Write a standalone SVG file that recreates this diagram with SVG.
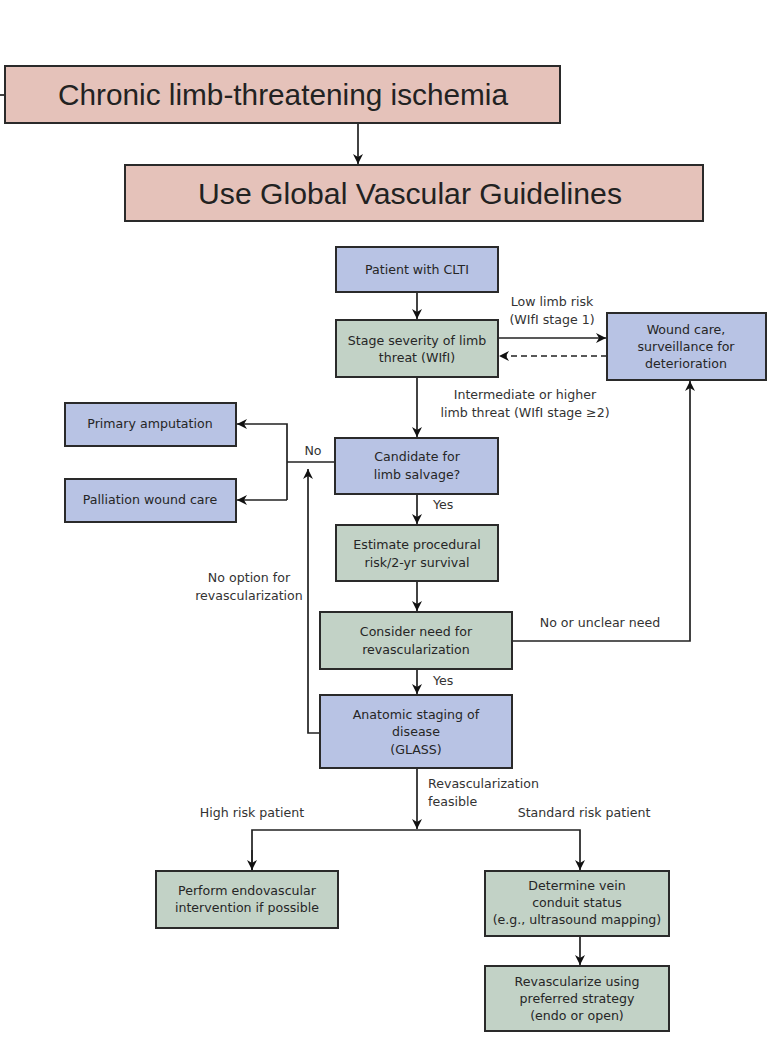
<svg xmlns="http://www.w3.org/2000/svg" width="770" height="1061" viewBox="0 0 770 1061">
<defs>
<style>
.pink{fill:#e5c2ba;stroke:#2a2a2a;stroke-width:2}
.blue{fill:#b8c3e4;stroke:#2a2a2a;stroke-width:2}
.green{fill:#c2d2c6;stroke:#2a2a2a;stroke-width:2}
.big{font-family:"Liberation Sans",Arial,sans-serif;font-size:30px;fill:#222;text-anchor:middle}
.t{font-family:"DejaVu Sans",Verdana,sans-serif;font-size:12.6px;fill:#262626;text-anchor:middle}
.lbl{font-family:"DejaVu Sans",Verdana,sans-serif;font-size:12.6px;fill:#333;text-anchor:middle}
.st{text-anchor:start}
.ln{fill:none;stroke:#222;stroke-width:1.7}
</style>
<marker id="ah" viewBox="0 0 10 10" refX="10" refY="5" markerWidth="10" markerHeight="10" orient="auto" markerUnits="userSpaceOnUse">
<path d="M0,0 L10,5 L0,10 L3,5 Z" fill="#111"/>
</marker>
</defs>
<rect width="770" height="1061" fill="#fff"/>

<g id="connectors">
<line class="ln" x1="0" y1="95" x2="5" y2="95"/>
<line class="ln" x1="358" y1="123" x2="358" y2="164" marker-end="url(#ah)" stroke-width="2.2"/>
<line class="ln" x1="417" y1="292" x2="417" y2="319" marker-end="url(#ah)"/>
<line class="ln" x1="498" y1="338" x2="606" y2="338" marker-end="url(#ah)"/>
<line class="ln" x1="607" y1="356" x2="499" y2="356" stroke-dasharray="6,4" marker-end="url(#ah)"/>
<line class="ln" x1="417" y1="377" x2="417" y2="437" marker-end="url(#ah)"/>
<polyline class="ln" points="335,462 287,462"/>
<polyline class="ln" points="287,500 287,424 237,424" marker-end="url(#ah)"/>
<line class="ln" x1="287" y1="500" x2="237" y2="500" marker-end="url(#ah)"/>
<line class="ln" x1="417" y1="494" x2="417" y2="524" marker-end="url(#ah)"/>
<line class="ln" x1="417" y1="581" x2="417" y2="611" marker-end="url(#ah)"/>
<polyline class="ln" points="512,641 690,641 690,381" marker-end="url(#ah)"/>
<line class="ln" x1="417" y1="669" x2="417" y2="694" marker-end="url(#ah)"/>
<polyline class="ln" points="320,733 308,733 308,469" marker-end="url(#ah)"/>
<line class="ln" x1="417" y1="768" x2="417" y2="829" marker-end="url(#ah)"/>
<polyline class="ln" points="252,870 252,830 580,830 580,870" marker-end="url(#ah)"/>
<line class="ln" x1="252" y1="850" x2="252" y2="870" marker-end="url(#ah)"/>
<line class="ln" x1="580" y1="936" x2="580" y2="965" marker-end="url(#ah)"/>
<text class="lbl" x="552" y="306">Low limb risk</text>
<text class="lbl" x="552" y="324">(WIfI stage 1)</text>
<text class="lbl" x="525" y="399">Intermediate or higher</text>
<text class="lbl" x="525" y="417">limb threat (WIfI stage ≥2)</text>
<text class="lbl" x="313" y="455">No</text>
<text class="lbl st" x="433" y="509">Yes</text>
<text class="lbl" x="249" y="582">No option for</text>
<text class="lbl" x="249" y="600">revascularization</text>
<text class="lbl" x="600" y="627">No or unclear need</text>
<text class="lbl st" x="433" y="685">Yes</text>
<text class="lbl st" x="428" y="788">Revascularization</text>
<text class="lbl st" x="428" y="806">feasible</text>
<text class="lbl" x="252" y="817">High risk patient</text>
<text class="lbl" x="584" y="817">Standard risk patient</text>
</g>

<g id="n-clti"><rect class="pink" x="5" y="66" width="555" height="57"/><text class="big" x="283" y="105" textLength="450" lengthAdjust="spacingAndGlyphs">Chronic limb-threatening ischemia</text></g>
<g id="n-gvg"><rect class="pink" x="125" y="165" width="578" height="56"/><text class="big" x="410" y="204" textLength="424" lengthAdjust="spacingAndGlyphs">Use Global Vascular Guidelines</text></g>
<g id="n-patient"><rect class="blue" x="336" y="247" width="162" height="45"/><text class="t" x="417" y="274">Patient with CLTI</text></g>
<g id="n-stage"><rect class="green" x="336" y="320" width="162" height="57"/><text class="t" x="417" y="345">Stage severity of limb</text><text class="t" x="417" y="362">threat (WIfI)</text></g>
<g id="n-wound"><rect class="blue" x="607" y="313" width="159" height="67"/><text class="t" x="686" y="334">Wound care,</text><text class="t" x="686" y="351">surveillance for</text><text class="t" x="686" y="368">deterioration</text></g>
<g id="n-candidate"><rect class="blue" x="335" y="438" width="163" height="56"/><text class="t" x="417" y="461">Candidate for</text><text class="t" x="417" y="479">limb salvage?</text></g>
<g id="n-amputation"><rect class="blue" x="65" y="403" width="171" height="43"/><text class="t" x="150" y="428">Primary amputation</text></g>
<g id="n-palliation"><rect class="blue" x="65" y="479" width="171" height="43"/><text class="t" x="150" y="504">Palliation wound care</text></g>
<g id="n-estimate"><rect class="green" x="336" y="525" width="162" height="56"/><text class="t" x="417" y="549">Estimate procedural</text><text class="t" x="417" y="567">risk/2-yr survival</text></g>
<g id="n-consider"><rect class="green" x="320" y="612" width="192" height="57"/><text class="t" x="416" y="636">Consider need for</text><text class="t" x="416" y="654">revascularization</text></g>
<g id="n-anatomic"><rect class="blue" x="320" y="695" width="192" height="73"/><text class="t" x="416" y="719">Anatomic staging of</text><text class="t" x="416" y="736">disease</text><text class="t" x="416" y="754">(GLASS)</text></g>
<g id="n-perform"><rect class="green" x="156" y="871" width="182" height="57"/><text class="t" x="247" y="895">Perform endovascular</text><text class="t" x="247" y="912">intervention if possible</text></g>
<g id="n-determine"><rect class="green" x="485" y="871" width="184" height="65"/><text class="t" x="577" y="890">Determine vein</text><text class="t" x="577" y="907">conduit status</text><text class="t" x="577" y="924">(e.g., ultrasound mapping)</text></g>
<g id="n-revasc"><rect class="green" x="485" y="966" width="184" height="65"/><text class="t" x="577" y="986">Revascularize using</text><text class="t" x="577" y="1003">preferred strategy</text><text class="t" x="577" y="1020">(endo or open)</text></g>
</svg>
